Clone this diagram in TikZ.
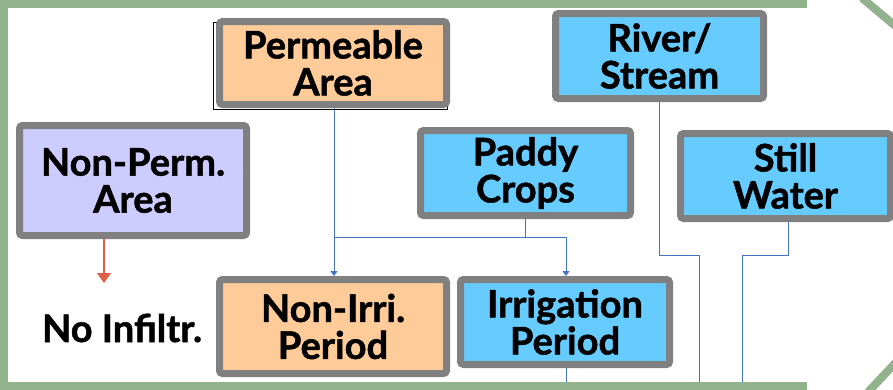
\documentclass[tikz,border=0pt]{standalone}
\usepackage{fontspec}
\setmainfont{Lato}[BoldFeatures={FakeBold=1.3}]
\usetikzlibrary{arrows.meta,calc,backgrounds}
\definecolor{frameg}{RGB}{146,178,141}
\definecolor{boxgray}{RGB}{128,128,128}
\definecolor{orangefill}{RGB}{255,204,153}
\definecolor{bluefill}{RGB}{102,204,255}
\definecolor{lavfill}{RGB}{204,204,255}
\definecolor{connblue}{RGB}{68,114,196}
\definecolor{arrred}{RGB}{222,96,70}
\tikzset{
  boxbase/.style={draw=boxgray, line width=7pt, rounded corners=3pt, align=center,
    font=\fontsize{38}{37}\selectfont\bfseries, inner sep=0pt},
  orangebox/.style={boxbase, fill=orangefill},
  bluebox/.style={boxbase, fill=bluefill},
  lavbox/.style={boxbase, fill=lavfill},
  conn/.style={draw=connblue, line width=0.8pt},
  connarrow/.style={conn, -{Triangle[width=7pt,length=5pt]}},
  redarrow/.style={draw=arrred, line width=1.6pt, -{Triangle[width=14pt,length=10pt]}},
  frameline/.style={draw=frameg, line width=8pt},
  plaintext/.style={font=\fontsize{38}{37}\selectfont\bfseries, inner sep=0pt}
}
\begin{document}
\begin{tikzpicture}[x=1pt,y=-1pt]
\useasboundingbox (0,0) rectangle (893,389);
\clip (0,0) rectangle (893,389);
% shadow outline behind Permeable
\draw[black, line width=0.6pt] (213,22) rectangle (447,109);
% boxes
\node[orangebox, minimum width=227pt, minimum height=83pt] (perm) at (333,63) {Permeable\\Area};
\node[bluebox, minimum width=208pt, minimum height=85pt] (river) at (659.5,56) {River/\\Stream};
\node[lavbox, minimum width=227pt, minimum height=110pt] (nonperm) at (133,180.5) {Non-Perm.\\Area};
\node[bluebox, minimum width=210pt, minimum height=85pt] (paddy) at (525.5,173) {Paddy\\Crops};
\node[bluebox, minimum width=210pt, minimum height=85pt] (still) at (785.5,176) {Still\\Water};
\node[orangebox, minimum width=227pt, minimum height=94pt] (nonirri) at (333,326.5) {Non-Irri.\\Period};
\node[bluebox, minimum width=209pt, minimum height=85pt] (irri) at (565,322) {Irrigation\\Period};
\node[plaintext] (noinf) at (122,328) {No Infiltr.};
% helper coordinates
\coordinate (jy) at (0,237);
\coordinate (rivj) at (699,255);
\coordinate (rive) at (699,395);
\coordinate (stj) at (742,255);
\coordinate (ste) at (742,395);
\coordinate (irre) at (566,395);
\coordinate (redend) at (104,283);
\coordinate (stills) at ($(still.south)+(2.5,0)$);
\coordinate (perms) at ($(perm.south)+(1,0)$);
\coordinate (nonirrin) at ($(nonirri.north)+(1,0)$);
\coordinate (irrin) at ($(irri.north)+(1,0)$);
\coordinate (irris) at ($(irri.south)+(1,0)$);
% connectors
\begin{scope}[on background layer]
\fill[white] (0,0) rectangle (893,389);
\draw[connarrow] (perms) -- (nonirrin);
\draw[connarrow] (perms |- jy) -| (irrin);
\draw[conn] (paddy.south) -- (paddy.south |- jy);
\draw[conn] (river.south) |- (rivj) -- (rive);
\draw[conn] (stills) |- (stj) -- (ste);
\draw[conn] (irris) -- (irre);
\end{scope}
\draw[redarrow] (nonperm.south -| redend) -- (redend);
% frame
\draw[frameline] (-5,4) -- (807,4);
\draw[frameline] (4,-5) -- (4,395);
\draw[frameline] (-5,386) -- (807,386);
\draw[frameline] (862,-2) -- (900,30);
\draw[frameline] (868,392) -- (900,358);
\end{tikzpicture}
\end{document}
